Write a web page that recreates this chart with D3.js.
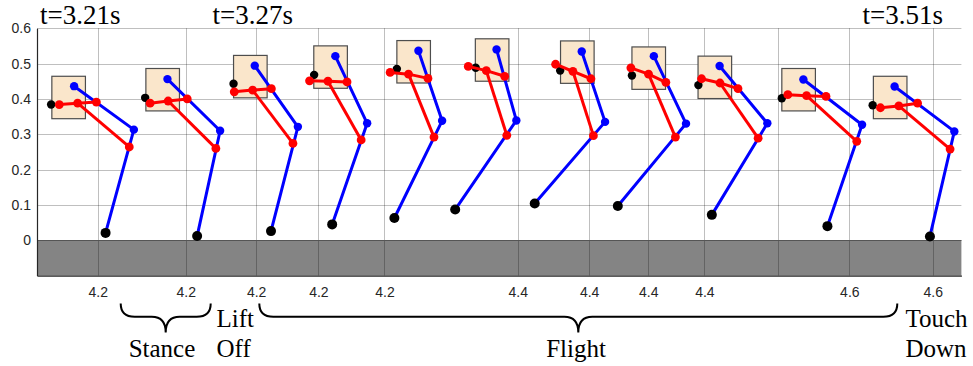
<!DOCTYPE html>
<html>
<head>
<meta charset="utf-8">
<script src="https://cdn.jsdelivr.net/npm/d3@7"></script>
<style>
  html, body { margin: 0; padding: 0; background: #fff; }
  svg { display: block; }
</style>
</head>
<body>
<svg id="chart" width="973" height="366"></svg>
<script>
// Snapshots of the hopping leg, left to right. All coordinates in metres, [x, z].
const bodyBox   = [[0.042,0.344],[0.308,0.366],[0.556,0.403],[0.783,0.430],[1.018,0.445],[1.240,0.450],[1.481,0.444],[1.683,0.427],[1.870,0.401],[2.107,0.366],[2.366,0.344]];
const hipMarker = [[0.040,0.384],[0.306,0.403],[0.556,0.443],[0.784,0.468],[1.018,0.485],[1.241,0.488],[1.480,0.480],[1.683,0.466],[1.871,0.439],[2.107,0.402],[2.364,0.382]];
const linkRear  = [[0.063,0.384],[0.320,0.388],[0.558,0.420],[0.771,0.451],[0.999,0.475],[1.220,0.492],[1.467,0.498],[1.680,0.488],[1.880,0.457],[2.124,0.412],[2.386,0.375]];
const linkMid   = [[0.115,0.388],[0.371,0.394],[0.610,0.425],[0.823,0.450],[1.051,0.470],[1.271,0.480],[1.516,0.478],[1.730,0.470],[1.932,0.445],[2.177,0.409],[2.438,0.380]];
const linkFront = [[0.168,0.391],[0.425,0.400],[0.663,0.429],[0.877,0.448],[1.106,0.458],[1.323,0.464],[1.567,0.457],[1.779,0.447],[1.983,0.429],[2.232,0.407],[2.491,0.388]];
const linkKnee  = [[0.261,0.264],[0.506,0.260],[0.724,0.274],[0.917,0.284],[1.123,0.292],[1.329,0.297],[1.574,0.296],[1.806,0.292],[2.040,0.289],[2.319,0.280],[2.583,0.258]];
const legHip    = [[0.105,0.436],[0.369,0.456],[0.616,0.494],[0.844,0.521],[1.079,0.536],[1.300,0.540],[1.541,0.534],[1.745,0.521],[1.931,0.493],[2.168,0.455],[2.426,0.435]];
const legKnee   = [[0.274,0.313],[0.518,0.310],[0.738,0.321],[0.934,0.331],[1.146,0.338],[1.356,0.339],[1.607,0.335],[1.836,0.330],[2.066,0.331],[2.334,0.327],[2.595,0.308]];
const legFoot   = [[0.194,0.021],[0.453,0.012],[0.662,0.026],[0.835,0.045],[1.011,0.063],[1.183,0.087],[1.408,0.104],[1.643,0.097],[1.909,0.072],[2.236,0.040],[2.526,0.011]];

const bodySize = [0.095, 0.12];  // body width, height (m)

// Stitched x axis: each snapshot keeps its own tick marks
const xTickValues = [0.172,0.421,0.620,0.796,0.983,1.360,1.562,1.729,1.888,2.095,2.298,2.534];
const xTickLabels = ["4.2","4.2","4.2","4.2","4.2","4.4","4.4","4.4","4.4","","4.6","4.6"];
const yTickValues = [0, 0.1, 0.2, 0.3, 0.4, 0.5, 0.6];
const yTickLabels = ["0","0.1","0.2","0.3","0.4","0.5","0.6"];

const timeLabels  = ["t=3.21s", "t=3.27s", "t=3.51s"];
const phaseNames  = ["Stance", "Flight"];
const eventNames  = [["Lift", "Off"], ["Touch", "Down"]];

// ---- layout ----
const svg = d3.select("#chart");
const plot = { left: 37, right: 961.4, top: 28.2, bottom: 275.65 };

const x = d3.scaleLinear().domain([0, 2.615]).range([plot.left, plot.right]);
const y = d3.scaleLinear().domain([-0.1, 0.6]).range([plot.bottom, plot.top]);

const axisColor = "#262626";
const sans = "'Liberation Sans', Arial, sans-serif";
const serif = "'Liberation Serif', 'Times New Roman', serif";

// ground
svg.append("rect")
  .attr("x", x(0)).attr("y", y(0))
  .attr("width", x(2.615) - x(0)).attr("height", y(-0.1) - y(0))
  .attr("fill", "#848484");

// grid
const grid = svg.append("g").attr("stroke", "#000").attr("stroke-opacity", 0.25).attr("stroke-width", 1);
grid.selectAll("line.h").data(yTickValues).join("line")
  .attr("x1", plot.left).attr("x2", plot.right)
  .attr("y1", d => Math.round(y(d)) + 0.5).attr("y2", d => Math.round(y(d)) + 0.5);
grid.selectAll("line.v").data(xTickValues).join("line")
  .attr("y1", plot.top).attr("y2", plot.bottom)
  .attr("x1", d => Math.round(x(d)) + 0.5).attr("x2", d => Math.round(x(d)) + 0.5);

// ground surface line
svg.append("line")
  .attr("x1", plot.left).attr("x2", plot.right)
  .attr("y1", Math.round(y(0)) + 0.5).attr("y2", Math.round(y(0)) + 0.5)
  .attr("stroke", "#555").attr("stroke-width", 1);

// axes
const yAxis = d3.axisLeft(y).tickValues(yTickValues).tickFormat((d, i) => yTickLabels[i]).tickSize(0).tickPadding(6);
const xAxis = d3.axisBottom(x).tickValues(xTickValues).tickFormat((d, i) => xTickLabels[i]).tickSize(0).tickPadding(11);

const gy = svg.append("g").attr("transform", `translate(${plot.left},0)`).call(yAxis);
const gx = svg.append("g").attr("transform", `translate(0,${plot.bottom})`).call(xAxis);
[gx, gy].forEach(g => {
  g.select(".domain").attr("stroke", axisColor).attr("stroke-width", 1.2);
  g.selectAll("text").attr("fill", axisColor).style("font-family", sans).style("font-size", "14px");
});

// ---- leg snapshots ----
const frames = d3.range(bodyBox.length);
const px = p => [x(p[0]), y(p[1])];
const line = d3.line();

const legs = svg.append("g").selectAll("g.frame").data(frames).join("g").attr("class", "frame");

// body
legs.append("rect")
  .attr("x", i => x(bodyBox[i][0]))
  .attr("y", i => y(bodyBox[i][1] + bodySize[1]))
  .attr("width", i => x(bodyBox[i][0] + bodySize[0]) - x(bodyBox[i][0]))
  .attr("height", i => y(bodyBox[i][1]) - y(bodyBox[i][1] + bodySize[1]))
  .attr("fill", "#fae6cb").attr("stroke", "#4d4d4d").attr("stroke-width", 1.2);

// hip reference point
legs.append("circle")
  .attr("cx", i => x(hipMarker[i][0])).attr("cy", i => y(hipMarker[i][1]))
  .attr("r", 4.2).attr("fill", "#000");

// main leg: hip - knee - foot
legs.append("path")
  .attr("d", i => line([legHip[i], legKnee[i], legFoot[i]].map(px)))
  .attr("fill", "none").attr("stroke", "#0000ff").attr("stroke-width", 3)
  .attr("stroke-linejoin", "round");
legs.append("circle").attr("cx", i => x(legHip[i][0])).attr("cy", i => y(legHip[i][1])).attr("r", 4.2).attr("fill", "#0000ff");
legs.append("circle").attr("cx", i => x(legKnee[i][0])).attr("cy", i => y(legKnee[i][1])).attr("r", 4.2).attr("fill", "#0000ff");

// parallel linkage
legs.append("path")
  .attr("d", i => line([linkRear[i], linkMid[i], linkFront[i]].map(px)))
  .attr("fill", "none").attr("stroke", "#ff0000").attr("stroke-width", 3)
  .attr("stroke-linejoin", "round");
legs.append("path")
  .attr("d", i => line([linkMid[i], linkKnee[i]].map(px)))
  .attr("fill", "none").attr("stroke", "#ff0000").attr("stroke-width", 3);
[linkRear, linkMid, linkFront, linkKnee].forEach(pts => {
  legs.append("circle").attr("cx", i => x(pts[i][0])).attr("cy", i => y(pts[i][1])).attr("r", 4.4).attr("fill", "#ff0000");
});

// foot
legs.append("circle")
  .attr("cx", i => x(legFoot[i][0])).attr("cy", i => y(legFoot[i][1]))
  .attr("r", 5).attr("fill", "#000");

// ---- annotations ----
const timeAt = [40, 212.5, 862.5];
svg.selectAll("text.time").data(timeLabels).join("text")
  .attr("x", (d, i) => timeAt[i]).attr("y", 23.5)
  .attr("fill", "#000")
  .style("font-family", serif).style("font-size", "27px")
  .text(d => d);

// curly brace opening downward between xa and xb
function brace(xa, xb, yTop, yMid, yTip) {
  const xm = (xa + xb) / 2, r = 14;
  return `M${xa},${yTop} Q${xa},${yMid} ${xa + r},${yMid} L${xm - r},${yMid} Q${xm},${yMid} ${xm},${yTip}` +
         ` Q${xm},${yMid} ${xm + r},${yMid} L${xb - r},${yMid} Q${xb},${yMid} ${xb},${yTop}`;
}
const braceSpans = [[120.7, 210.7], [259.3, 897.3]];
svg.selectAll("path.brace").data(braceSpans).join("path")
  .attr("d", d => brace(d[0], d[1], 303.5, 316.8, 332.5))
  .attr("fill", "none").attr("stroke", "#000").attr("stroke-width", 2);

const phaseAt = [162, 576];
svg.selectAll("text.phase").data(phaseNames).join("text")
  .attr("x", (d, i) => phaseAt[i]).attr("y", 356.5)
  .attr("text-anchor", "middle").attr("fill", "#000")
  .style("font-family", serif).style("font-size", "25px")
  .text(d => d);

const eventAt = [216.5, 905.5];
eventNames.forEach((lines, i) => {
  lines.forEach((t, j) => {
    svg.append("text")
      .attr("x", eventAt[i]).attr("y", 326.5 + j * 30)
      .attr("fill", "#000")
      .style("font-family", serif).style("font-size", "25px")
      .text(t);
  });
});
</script>
</body>
</html>
